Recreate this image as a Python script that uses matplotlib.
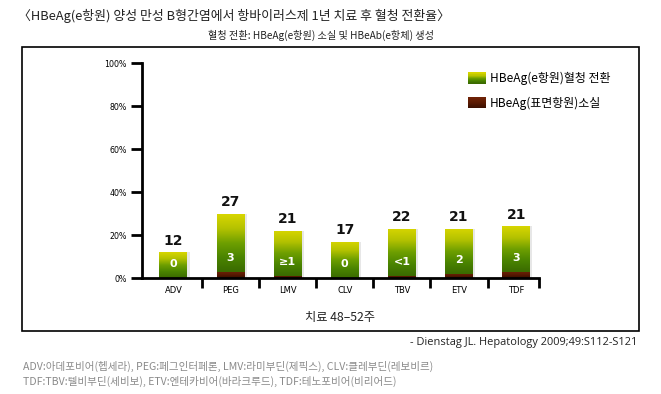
import matplotlib
matplotlib.use("Agg")
import matplotlib.pyplot as plt
import numpy as np
from matplotlib.colors import LinearSegmentedColormap
from matplotlib.patches import Rectangle
from matplotlib.legend_handler import HandlerBase

plt.rcParams['font.family'] = ['Noto Sans CJK KR', 'DejaVu Sans']

# ---- data ----
categories = ["ADV", "PEG", "LMV", "CLV", "TBV", "ETV", "TDF"]
seroconversion = [12, 27, 21, 17, 22, 21, 21]
antigen_loss = [0, 3, 1, 0, 1, 2, 3]
loss_labels = ["0", "3", "≥1", "0", "<1", "2", "3"]
yticks = [0, 20, 40, 60, 80, 100]
ytick_labels = ["0%", "20%", "40%", "60%", "80%", "100%"]
legend_labels = ["HBeAg(e항원)혈청 전환", "HBeAg(표면항원)소실"]
title = "〈HBeAg(e항원) 양성 만성 B형간염에서 항바이러스제 1년 치료 후 혈청 전환율〉"
subtitle = "혈청 전환: HBeAg(e항원) 소실 및 HBeAb(e항체) 생성"
xlabel = "치료 48–52주"
citation = "- Dienstag JL. Hepatology 2009;49:S112-S121"
footnotes = ["ADV:아데포비어(헵세라), PEG:페그인터페론, LMV:라미부딘(제픽스), CLV:클레부딘(레보비르)",
             "TDF:TBV:텔비부딘(세비보), ETV:엔테카비어(바라크루드), TDF:테노포비어(비리어드)"]

green_cmap = LinearSegmentedColormap.from_list(
    "g", ["#3a6a00", "#4a8400", "#6e9f00", "#b4c200", "#d8d600"])
brown_cmap = LinearSegmentedColormap.from_list("b", ["#3a0f00", "#5a1a02", "#6e2206"])

fig = plt.figure(figsize=(6.61, 3.94), dpi=100)
fig.patch.set_facecolor("white")

# outer frame
fig.patches.append(Rectangle((0.0337, 0.160), 0.9335, 0.720, transform=fig.transFigure,
                             fill=False, edgecolor="black", linewidth=1.2))

ax = fig.add_axes([0.2148, 0.2944, 0.6006, 0.5449])
x = np.arange(len(categories))
w = 0.49
loss = np.array(antigen_loss, dtype=float)
conv = np.array(seroconversion, dtype=float)

# shadows
ax.bar(x + 0.04, conv + loss, width=w, bottom=0, color="#d8d8d8", alpha=0.6, zorder=1)
bars_b = ax.bar(x, loss, width=w, color="none", zorder=3)
bars_g = ax.bar(x, conv, width=w, bottom=loss, color="none", zorder=3)

grad = np.linspace(0, 1, 256).reshape(-1, 1)
for patches, cmap in ((bars_g, green_cmap), (bars_b, brown_cmap)):
    for p in patches:
        x0, y0 = p.get_xy()
        pw, ph = p.get_width(), p.get_height()
        if ph <= 0:
            continue
        im = ax.imshow(grad, extent=[x0, x0 + pw, y0, y0 + ph], origin="lower",
                       aspect="auto", cmap=cmap, zorder=2, interpolation="bilinear")
        im.set_clip_path(p)

for i in range(len(categories)):
    ax.text(x[i], conv[i] + loss[i] + 2.0, str(seroconversion[i]), ha="center", va="bottom",
            fontsize=10, fontweight="bold", family="DejaVu Sans", color="#111111", zorder=5)
    ax.text(x[i], loss[i] + 6.5, loss_labels[i], ha="center", va="center",
            fontsize=8, fontweight="bold", family="DejaVu Sans", color="white", zorder=5)

ax.set_xlim(-0.55, 6.4)
ax.set_ylim(0, 100)
ax.set_yticks(yticks)
ax.set_yticklabels(ytick_labels, fontsize=5.7, family="DejaVu Sans")
ax.set_xticks(x)
ax.set_xticklabels(categories, fontsize=6, family="DejaVu Sans")
ax.set_xticks(list(np.arange(len(categories) - 1) + 0.5) + [6.4], minor=True)
ax.tick_params(axis="x", which="major", length=0, pad=6)
ax.tick_params(axis="x", which="minor", length=7, width=2, direction="out")
ax.tick_params(axis="y", length=8, width=2, direction="out", pad=3)
for s in ("top", "right"):
    ax.spines[s].set_visible(False)
for s in ("left", "bottom"):
    ax.spines[s].set_linewidth(2)

# legend with gradient handles
class GradHandler(HandlerBase):
    def __init__(self, cmap):
        super().__init__()
        self.cmap = cmap
    def create_artists(self, legend, orig_handle, xdescent, ydescent, width, height, fontsize, trans):
        n = 20
        arts = []
        for k in range(n):
            r = Rectangle((-xdescent, -ydescent + height * k / n), width, height / n + 0.3,
                          facecolor=self.cmap(k / (n - 1)), edgecolor="none", transform=trans)
            arts.append(r)
        return arts

h1 = Rectangle((0, 0), 1, 1)
h2 = Rectangle((0, 0), 1, 1)
leg = ax.legend([h1, h2], legend_labels, handler_map={h1: GradHandler(green_cmap), h2: GradHandler(brown_cmap)},
                loc="upper left", bbox_to_anchor=(468 / 661, 1 - 72 / 394), bbox_transform=fig.transFigure,
                frameon=False, fontsize=8.6, handlelength=1.5, handleheight=1.0, handletextpad=0.3,
                labelspacing=0.95, borderpad=0, borderaxespad=0)

fig.text(18 / 661, 1 - 16 / 394, title, fontsize=9.3, ha="left", va="center", color="#222222")
fig.text(321 / 661, 1 - 35 / 394, subtitle, fontsize=7.3, ha="center", va="center", color="#222222")
fig.text(340 / 661, 1 - 317 / 394, xlabel, fontsize=8.8, ha="center", va="center", color="#222222")
fig.text(637 / 661, 1 - 342 / 394, citation, fontsize=7.9, ha="right", va="center",
         family="Open Sans", color="#222222")
fig.text(23 / 661, 1 - 366 / 394, footnotes[0], fontsize=7.6, ha="left", va="center", color="#8a8a8a")
fig.text(23 / 661, 1 - 381 / 394, footnotes[1], fontsize=7.6, ha="left", va="center", color="#8a8a8a")

fig.savefig("out.png", dpi=100, facecolor="white")
